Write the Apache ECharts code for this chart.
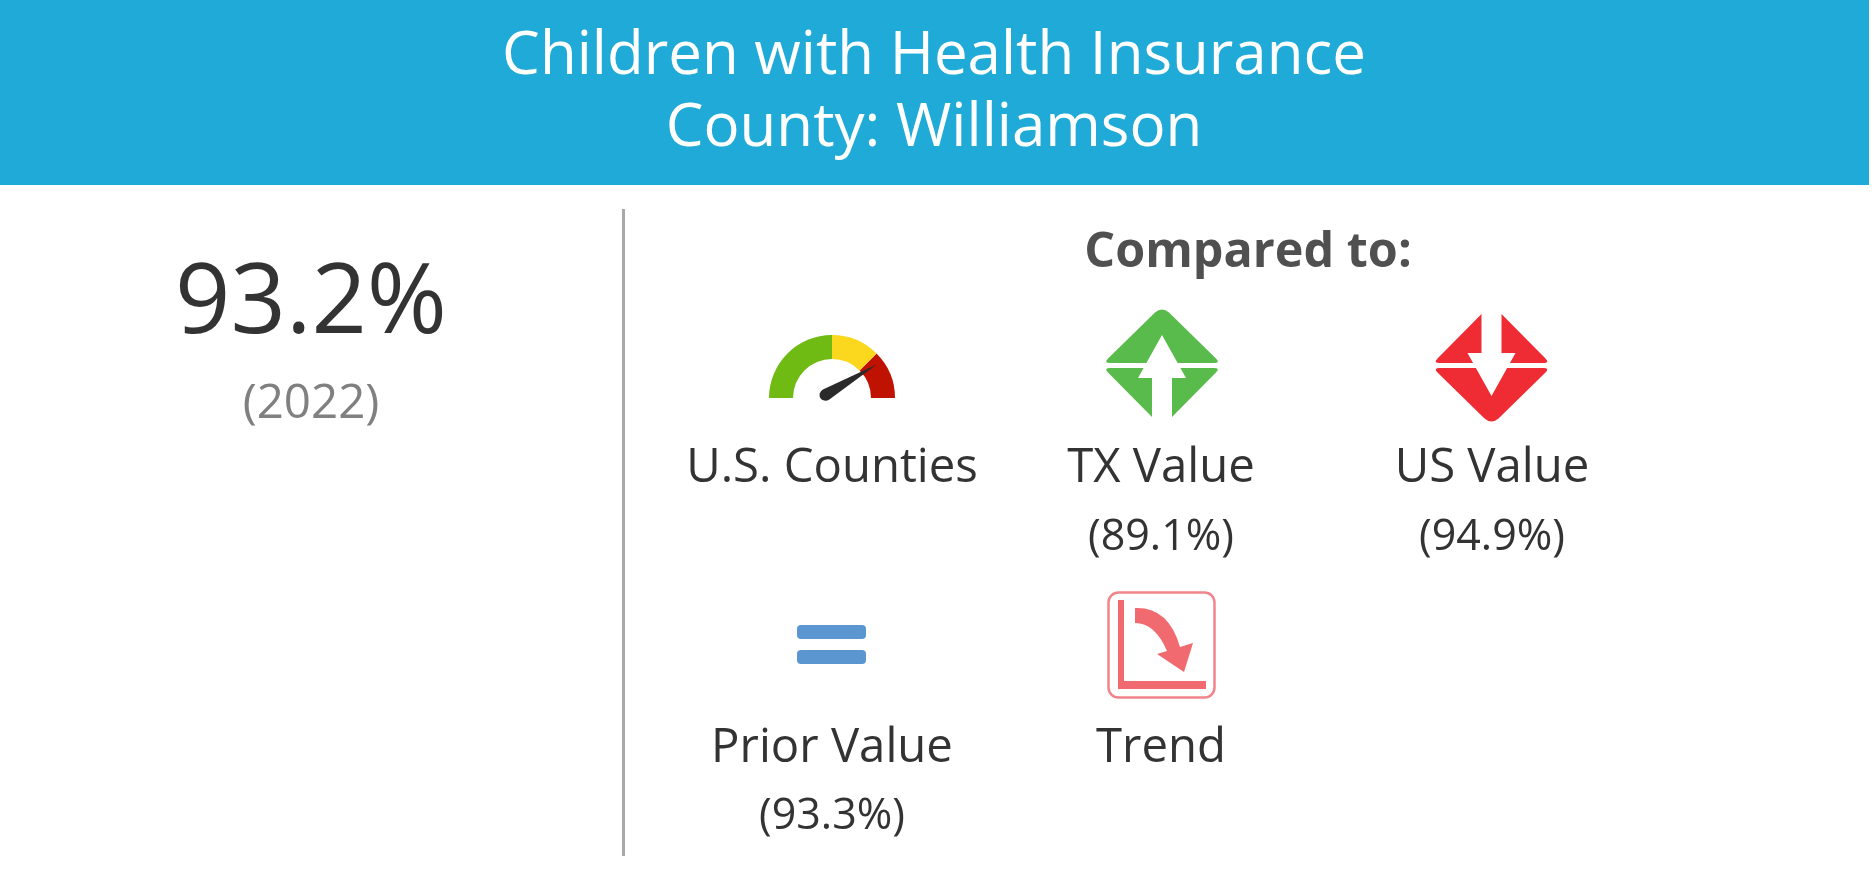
<!DOCTYPE html>
<html>
<head>
<meta charset="utf-8">
<style>
html,body{margin:0;padding:0;background:#fff;}
#main{width:1872px;height:882px;}
</style>
<script src="https://cdn.jsdelivr.net/npm/echarts@6/dist/echarts.min.js"></script>
</head>
<body>
<div id="main"></div>
<script>
var titleLines = ['Children with Health Insurance', 'County: Williamson'];
var mainValue = '93.2%';
var mainYear = '(2022)';
var compareTitle = 'Compared to:';
var compareLabels = ['U.S. Counties', 'TX Value', 'US Value', 'Prior Value', 'Trend'];
var compareValues = ['', '(89.1%)', '(94.9%)', '(93.3%)', ''];
var gaugeValue = [83];
var gaugeStops = [[0.5, '#6fba13'], [0.75, '#fbd71e'], [1, '#c01200']];

var font = '"Open Sans"';
var chart = echarts.init(document.getElementById('main'));

// 文本
function txt(text, x, y, size, color, weight) {
    return {
        type: 'text',
        x: x,
        y: y,
        style: {
            text: text,
            fill: color,
            font: (weight || 'normal') + ' ' + size + 'px ' + font,
            textAlign: 'center',
            textVerticalAlign: 'middle'
        }
    };
}

// graphic 没有 path 类型，注册一个
var shapeCount = 0;
function pathEl(d, fill) {
    var name = 'iconShape' + (shapeCount++);
    echarts.graphic.registerShape(name, echarts.graphic.extendPath(d));
    return {type: name, style: {fill: fill}};
}

// 菱形箭头 dir=1 向上, dir=-1 向下
function arrowIcon(cx, midY, dir, color) {
    function p(dx, dy) { return (cx + dx) + ' ' + (midY - dir * dy); }
    var upper = 'M' + p(-52, 2.5) + ' Q' + p(-58.5, 2.5) + ' ' + p(-54, 7) +
        ' L' + p(-7, 53) + ' Q' + p(0, 59) + ' ' + p(7, 53) +
        ' L' + p(54, 7) + ' Q' + p(58.5, 2.5) + ' ' + p(52, 2.5) + ' Z';
    var lower = 'M' + p(-52, -2.5) + ' Q' + p(-58.5, -2.5) + ' ' + p(-54, -7) +
        ' L' + p(-10, -51.5) + ' L' + p(10, -51.5) + ' L' + p(54, -7) +
        ' Q' + p(58.5, -2.5) + ' ' + p(52, -2.5) + ' Z';
    var arrow = 'M' + p(0, 30.5) + ' L' + p(24, -12.5) + ' L' + p(10, -12.5) + ' L' + p(10, -55) +
        ' L' + p(-10, -55) + ' L' + p(-10, -12.5) + ' L' + p(-24, -12.5) + ' Z';
    return [pathEl(upper, color), pathEl(lower, color), pathEl(arrow, '#fff')];
}

var labelX = [832, 1161, 1492, 832, 1161];
var labelY = [468.5, 468.5, 468.5, 748.5, 748.5];
var valueY = [538, 538, 538, 817, 817];

var elements = [
    {type: 'rect', shape: {x: 0, y: 0, width: 1869, height: 185}, style: {fill: '#20aad7'}},
    txt(titleLines[0], 934, 57, 60, '#fff'),
    txt(titleLines[1], 934, 129, 60, '#fff'),
    {type: 'rect', shape: {x: 622, y: 209, width: 3, height: 647}, style: {fill: '#a9a9a9'}},
    txt(mainValue, 311, 305, 97, '#333'),
    txt(mainYear, 311, 404, 47.5, '#808080'),
    txt(compareTitle, 1248, 253, 48.5, '#505050', 'bold'),
    // 等号
    {type: 'rect', shape: {x: 797, y: 625, width: 69, height: 14, r: 4}, style: {fill: '#5b96d1'}},
    {type: 'rect', shape: {x: 797, y: 650, width: 69, height: 14, r: 4}, style: {fill: '#5b96d1'}},
    // 趋势图标
    {type: 'rect', shape: {x: 1108.5, y: 592.5, width: 106, height: 105, r: 10}, style: {fill: 'none', stroke: '#f1858b', lineWidth: 2.5}},
    pathEl('M1118 600 L1124 600 L1124 681 L1206 681 L1206 689 L1118 689 Z', '#f16a6f'),
    pathEl('M1135 608 Q1168.5 606.5 1180 647 L1193 643 L1184 672 L1157 654 L1167 651 Q1155 623 1135 623 Z', '#f16a6f')
];
elements = elements.concat(arrowIcon(1162, 365.5, 1, '#59bb4b'));
elements = elements.concat(arrowIcon(1491.5, 365.5, -1, '#ef2c33'));
for (var i = 0; i < compareLabels.length; i++) {
    elements.push(txt(compareLabels[i], labelX[i], labelY[i], 47.3, '#333'));
    if (compareValues[i]) {
        elements.push(txt(compareValues[i], labelX[i], valueY[i], 43, '#333'));
    }
}

chart.setOption({
    animation: false,
    graphic: {elements: elements},
    series: [{
        type: 'gauge',
        center: [832, 398],
        radius: 63,
        min: 0,
        max: 100,
        startAngle: 180,
        endAngle: 0,
        axisLine: {lineStyle: {width: 24, color: gaugeStops}},
        axisTick: {show: false},
        splitLine: {show: false},
        axisLabel: {show: false},
        title: {show: false},
        detail: {show: false},
        anchor: {show: false},
        pointer: {
            icon: 'path://M50 0 L100 450 A50 50 0 1 1 0 450 Z',
            length: 65.5,
            width: 12,
            offsetCenter: [-6, 10],
            itemStyle: {color: '#2a2a2a'}
        },
        data: [{value: gaugeValue[0]}]
    }]
});
</script>
</body>
</html>
